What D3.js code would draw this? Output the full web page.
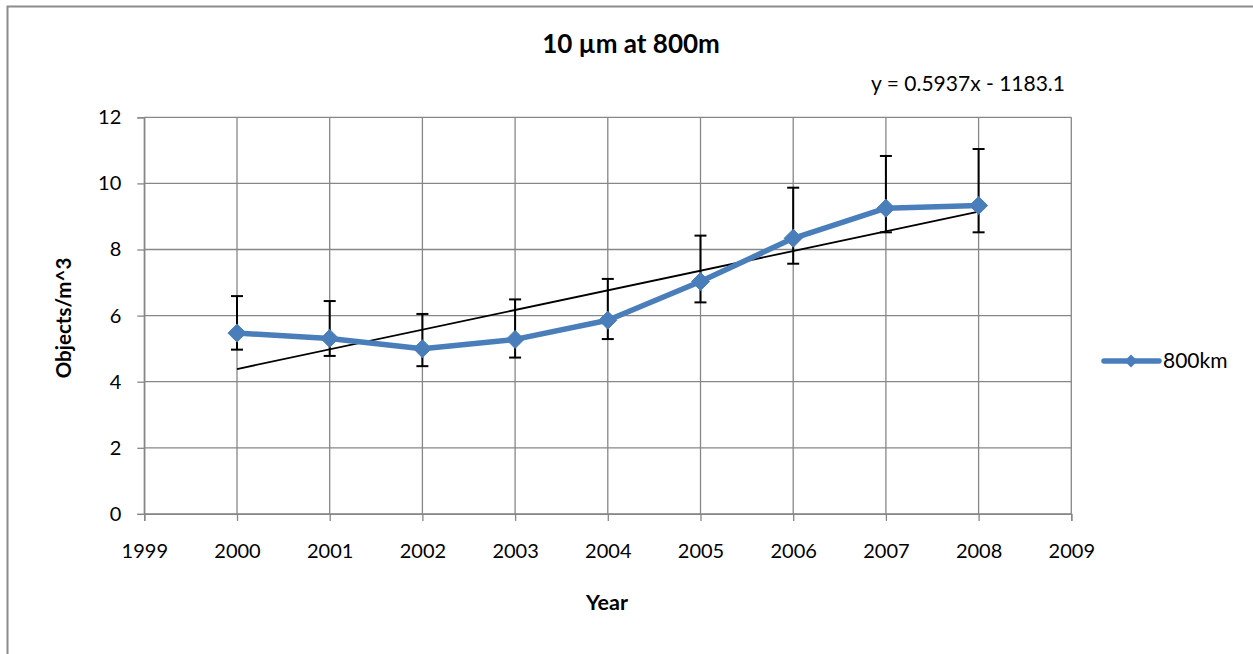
<!DOCTYPE html>
<html>
<head>
<meta charset="utf-8">
<script src="https://cdn.jsdelivr.net/npm/d3@7"></script>
<style>
  html, body { margin: 0; padding: 0; background: #fff; }
  svg { display: block; }
  text { font-family: Lato, "Open Sans", "DejaVu Sans", sans-serif; fill: #000; }
</style>
</head>
<body>
<svg id="chart" width="1253" height="654"></svg>
<script>
// Yearly object density at 800 km, with asymmetric error ranges
const years = [2000, 2001, 2002, 2003, 2004, 2005, 2006, 2007, 2008];
const density = [5.47, 5.31, 5.00, 5.28, 5.86, 7.03, 8.34, 9.25, 9.33];
const errHigh = [6.59, 6.44, 6.05, 6.49, 7.11, 8.42, 9.87, 10.83, 11.04];
const errLow  = [4.97, 4.78, 4.47, 4.73, 5.29, 6.40, 7.57, 8.52, 8.52];
const xTicks = [1999, 2000, 2001, 2002, 2003, 2004, 2005, 2006, 2007, 2008, 2009];
const yTicks = [0, 2, 4, 6, 8, 10, 12];
const seriesName = "800km";
const chartTitle = "10 µm at 800m";
const trendLabel = "y = 0.5937x - 1183.1";

const svg = d3.select("#chart");
const blue = "#4a7ebb";
const gridColor = "#878787";

// outer chart frame
svg.append("rect")
  .attr("x", 7.5).attr("y", 6.5)
  .attr("width", 1260).attr("height", 660)
  .attr("fill", "none").attr("stroke", "#8c8c8c").attr("stroke-width", 2);

const x = d3.scaleLinear().domain([1999, 2009]).range([144.3, 1071.3]);
const y = d3.scaleLinear().domain([0, 12]).range([513.9, 117.3]);

// gridlines
const grid = svg.append("g");
grid.selectAll("line.h").data(yTicks).join("line")
  .attr("x1", x(1999)).attr("x2", x(2009))
  .attr("y1", d => y(d)).attr("y2", d => y(d))
  .attr("stroke", gridColor).attr("stroke-width", 1.3);
grid.selectAll("line.v").data(xTicks).join("line")
  .attr("x1", d => x(d)).attr("x2", d => x(d))
  .attr("y1", y(0)).attr("y2", y(12))
  .attr("stroke", gridColor).attr("stroke-width", 1.3);

// axes
const xAxis = svg.append("g")
  .attr("transform", `translate(0,${y(0)})`)
  .call(d3.axisBottom(x).tickValues(xTicks).tickFormat(d3.format("d")).tickSize(7).tickPadding(23));
const yAxis = svg.append("g")
  .attr("transform", `translate(${x(1999)},0)`)
  .call(d3.axisLeft(y).tickValues(yTicks).tickSize(7).tickPadding(16));
[xAxis, yAxis].forEach(g => {
  g.select(".domain").attr("stroke", gridColor).attr("stroke-width", 1.3);
  g.selectAll(".tick line").attr("stroke", gridColor).attr("stroke-width", 1.3);
  g.selectAll(".tick text").attr("font-size", 20).attr("font-family", "Lato, sans-serif").attr("fill", "#000");
});

// linear trend line fitted to the series
const n = years.length;
const mx = d3.mean(years), my = d3.mean(density);
const slope = d3.sum(years, (v, i) => (v - mx) * (density[i] - my)) / d3.sum(years, v => (v - mx) ** 2);
const icpt = my - slope * mx;
svg.append("line")
  .attr("x1", x(years[0])).attr("y1", y(slope * years[0] + icpt))
  .attr("x2", x(years[n - 1])).attr("y2", y(slope * years[n - 1] + icpt))
  .attr("stroke", "#000").attr("stroke-width", 1.8);

// error bars
const eb = svg.append("g").attr("stroke", "#000").attr("stroke-width", 2);
years.forEach((yr, i) => {
  const cx = x(yr);
  eb.append("line").attr("x1", cx).attr("x2", cx).attr("y1", y(errLow[i])).attr("y2", y(errHigh[i]));
  eb.append("line").attr("x1", cx - 6).attr("x2", cx + 6).attr("y1", y(errHigh[i])).attr("y2", y(errHigh[i]));
  eb.append("line").attr("x1", cx - 6).attr("x2", cx + 6).attr("y1", y(errLow[i])).attr("y2", y(errLow[i]));
});

// series line and diamond markers
const line = d3.line().x((d, i) => x(years[i])).y(d => y(d));
svg.append("path").datum(density)
  .attr("d", line).attr("fill", "none")
  .attr("stroke", blue).attr("stroke-width", 5.5).attr("stroke-linejoin", "round").attr("stroke-linecap", "round");
const diamond = s => `M0,${-s}L${s},0L0,${s}L${-s},0Z`;
svg.selectAll("path.marker").data(density).join("path")
  .attr("class", "marker")
  .attr("d", diamond(9))
  .attr("transform", (d, i) => `translate(${x(years[i])},${y(d)})`)
  .attr("fill", blue).attr("stroke", blue).attr("stroke-width", 1);

// titles
svg.append("text").attr("x", 631).attr("y", 53)
  .attr("text-anchor", "middle").attr("font-size", 26).attr("font-weight", "bold")
  .text(chartTitle);
svg.append("text").attr("x", 1065).attr("y", 91)
  .attr("text-anchor", "end").attr("font-size", 21)
  .text(trendLabel);
svg.append("text").attr("x", 607).attr("y", 610)
  .attr("text-anchor", "middle").attr("font-size", 21.5).attr("font-weight", "bold")
  .text("Year");
svg.append("text")
  .attr("transform", "translate(71,318) rotate(-90)")
  .attr("text-anchor", "middle").attr("font-size", 20.5).attr("font-weight", "bold")
  .text("Objects/m^3");

// legend
const lg = svg.append("g");
lg.append("line").attr("x1", 1104).attr("x2", 1159).attr("y1", 361).attr("y2", 361)
  .attr("stroke", blue).attr("stroke-width", 5.5).attr("stroke-linecap", "round");
lg.append("path").attr("d", diamond(6.5)).attr("transform", "translate(1131,361)")
  .attr("fill", blue);
lg.append("text").attr("x", 1163).attr("y", 368).attr("font-size", 21).text(seriesName);
</script>
</body>
</html>
